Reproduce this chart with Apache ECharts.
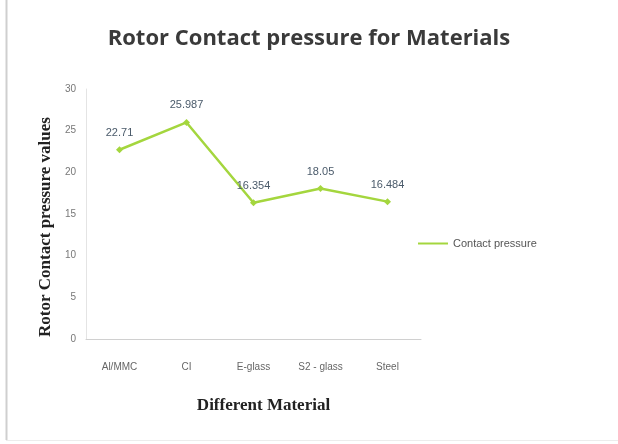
<!DOCTYPE html>
<html>
<head>
<meta charset="utf-8">
<script src="https://cdn.jsdelivr.net/npm/echarts@6/dist/echarts.min.js"></script>
<style>
  html, body { margin: 0; padding: 0; background: #ffffff; }
  #chart { width: 618px; height: 444px; }
</style>
</head>
<body>
<div id="chart"></div>
<script>
// Contact pressure per rotor material
const materials = ['Al/MMC', 'CI', 'E-glass', 'S2 - glass', 'Steel'];
const contactPressure = [22.71, 25.987, 16.354, 18.05, 16.484];
const pressureLabels = ['22.71', '25.987', '16.354', '18.05', '16.484'];
const yTicks = { min: 0, max: 30, interval: 5 };

const lineColor = '#a4d63e';

const chart = echarts.init(document.getElementById('chart'));
chart.setOption({
  backgroundColor: '#ffffff',
  animation: false,
  title: {
    text: 'Rotor Contact pressure for Materials',
    left: 'center',
    top: 23,
    textStyle: { fontFamily: 'Open Sans', fontWeight: 'bold', fontSize: 22, color: '#3a3a3a' }
  },
  graphic: [
    { type: 'line', shape: { x1: 6.5, y1: 0, x2: 6.5, y2: 440 }, style: { stroke: '#cfcfcf', lineWidth: 2 } },
    { type: 'line', shape: { x1: 6, y1: 440.5, x2: 618, y2: 440.5 }, style: { stroke: '#ececec', lineWidth: 1 } }
  ],
  legend: {
    data: ['Contact pressure'],
    orient: 'vertical',
    left: 413,
    top: 233,
    itemWidth: 30,
    itemHeight: 8,
    icon: 'path://M0,4 L30,4 L30,6 L0,6 Z',
    textStyle: { fontFamily: 'Liberation Sans', fontSize: 11, color: '#555555' }
  },
  grid: { left: 86, right: 197, top: 89, bottom: 105 },
  xAxis: {
    type: 'category',
    data: materials,
    boundaryGap: true,
    name: 'Different Material',
    nameLocation: 'middle',
    nameGap: 58,
    nameTextStyle: { fontFamily: 'Liberation Serif', fontWeight: 'bold', fontSize: 17, color: '#222222', padding: [0, 0, 0, 20] },
    axisLine: { lineStyle: { color: '#d0d0d0' } },
    axisTick: { show: false },
    axisLabel: { fontFamily: 'Liberation Sans', fontSize: 10, color: '#666666', margin: 23 }
  },
  yAxis: {
    type: 'value',
    min: yTicks.min,
    max: yTicks.max,
    interval: yTicks.interval,
    name: 'Rotor Contact pressure values',
    nameLocation: 'middle',
    nameGap: 31,
    nameTextStyle: { fontFamily: 'Liberation Serif', fontWeight: 'bold', fontSize: 17, color: '#222222', padding: [0, 26, 0, 0] },
    axisLine: { show: true, lineStyle: { color: '#e4e4e4' } },
    axisTick: { show: false },
    splitLine: { show: false },
    axisLabel: { fontFamily: 'Liberation Sans', fontSize: 10, color: '#777777', margin: 10 }
  },
  series: [{
    name: 'Contact pressure',
    type: 'line',
    data: contactPressure,
    symbol: 'diamond',
    symbolSize: 7,
    itemStyle: { color: lineColor },
    lineStyle: { color: lineColor, width: 2.5 },
    label: {
      show: true,
      position: 'top',
      distance: 8,
      fontFamily: 'Liberation Sans',
      fontSize: 11,
      color: '#4a5a6a',
      formatter: p => pressureLabels[p.dataIndex]
    }
  }]
});
</script>
</body>
</html>
